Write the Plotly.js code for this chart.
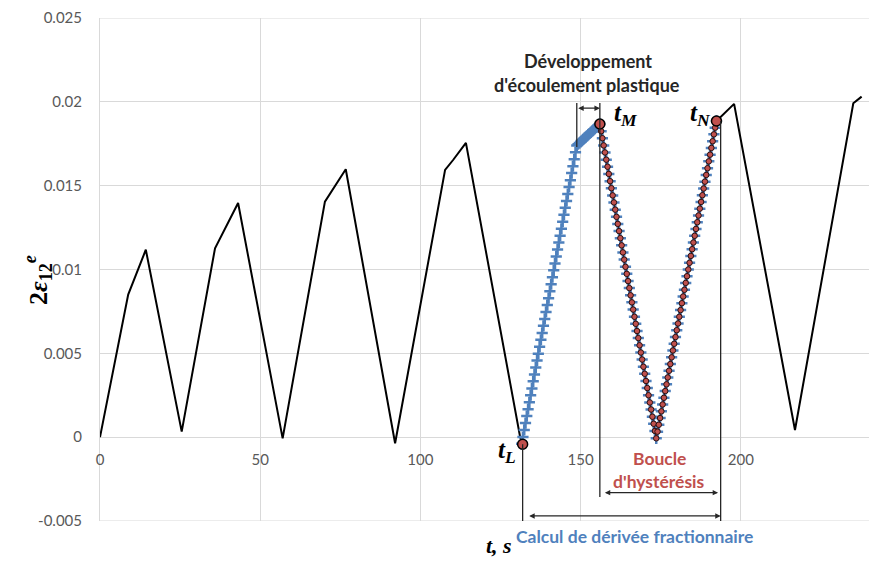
<!DOCTYPE html>
<html>
<head>
<meta charset="utf-8">
<script src="https://cdn.plot.ly/plotly-3.0.1.min.js"></script>
<style>html,body{margin:0;padding:0;background:#fff;}#chart{width:869px;height:561px;}</style>
</head>
<body>
<div id="chart"></div>
<script>
// ---- Data ----
// Black strain signal (gap between t_L and t_N where the marked series is drawn)
const tSignal = [0, 7.3, 8.8, 14.3, 25.5, 35.9, 43.1, 57.0, 70.2, 76.7, 92.1, 107.7, 110.2, 114.2, 131.1, 131.9, null, 192.4, 197.9, 216.9, 235.1, 237.7];
const epsSignal = [0, 0.0071, 0.0085, 0.01118, 0.00033, 0.01127, 0.01397, -0.00007, 0.01405, 0.01598, -0.00036, 0.01594, 0.01653, 0.01755, 0.00003, -0.00042, null, 0.01886, 0.01988, 0.00043, 0.01991, 0.02031];

// Samples used for the fractional derivative (t_L .. t_N)
const tFrac = [
131.6,132.0,132.4,132.8,133.2,133.6,134.0,134.4,134.8,135.2,
135.6,136.0,136.4,136.8,137.2,137.6,138.0,138.4,138.8,139.2,
139.6,140.0,140.4,140.8,141.2,141.6,142.0,142.4,142.8,143.2,
143.6,144.0,144.4,144.8,145.2,145.6,146.0,146.4,146.8,147.2,
147.6,148.0,148.4,148.8,149.2,149.6,150.0,150.4,150.8,151.2,
151.6,152.0,152.4,152.8,153.2,153.6,154.0,154.4,154.8,155.2,
155.6,156.0,156.4,156.8,157.2,157.6,158.0,158.4,158.8,159.2,
159.6,160.0,160.4,160.8,161.2,161.6,162.0,162.4,162.8,163.2,
163.6,164.0,164.4,164.8,165.2,165.6,166.0,166.4,166.8,167.2,
167.6,168.0,168.4,168.8,169.2,169.6,170.0,170.4,170.8,171.2,
171.6,172.0,172.4,172.8,173.2,173.6,174.0,174.4,174.8,175.2,
175.6,176.0,176.4,176.8,177.2,177.6,178.0,178.4,178.8,179.2,
179.6,180.0,180.4,180.8,181.2,181.6,182.0,182.4,182.8,183.2,
183.6,184.0,184.4,184.8,185.2,185.6,186.0,186.4,186.8,187.2,
187.6,188.0,188.4,188.8,189.2,189.6,190.0,190.4,190.8,191.2,
191.6,192.0,192.4];
const epsFrac = [
-0.00040,0.00001,0.00043,0.00084,0.00126,0.00167,0.00208,0.00250,0.00291,0.00333,
0.00374,0.00415,0.00457,0.00498,0.00540,0.00581,0.00622,0.00664,0.00705,0.00747,
0.00788,0.00829,0.00871,0.00912,0.00954,0.00995,0.01036,0.01078,0.01119,0.01161,
0.01202,0.01243,0.01285,0.01326,0.01368,0.01409,0.01450,0.01492,0.01533,0.01575,
0.01616,0.01657,0.01699,0.01740,0.01747,0.01754,0.01761,0.01768,0.01776,0.01783,
0.01790,0.01797,0.01804,0.01811,0.01818,0.01825,0.01833,0.01840,0.01847,0.01854,
0.01861,0.01868,0.01825,0.01783,0.01740,0.01698,0.01655,0.01613,0.01570,0.01527,
0.01485,0.01442,0.01400,0.01357,0.01314,0.01272,0.01229,0.01187,0.01144,0.01102,
0.01059,0.01016,0.00974,0.00931,0.00889,0.00846,0.00804,0.00761,0.00718,0.00676,
0.00633,0.00591,0.00548,0.00505,0.00463,0.00420,0.00378,0.00335,0.00293,0.00250,
0.00207,0.00165,0.00122,0.00080,0.00037,-0.00007,0.00033,0.00074,0.00114,0.00154,
0.00195,0.00235,0.00275,0.00315,0.00356,0.00396,0.00436,0.00476,0.00517,0.00557,
0.00597,0.00638,0.00678,0.00718,0.00758,0.00799,0.00839,0.00879,0.00920,0.00960,
0.01000,0.01040,0.01081,0.01121,0.01161,0.01201,0.01242,0.01282,0.01322,0.01363,
0.01403,0.01443,0.01483,0.01524,0.01564,0.01604,0.01645,0.01685,0.01725,0.01765,
0.01806,0.01846,0.01886];

// Key instants t_L, t_M, t_N
const keyLabels = ['L', 'M', 'N'];
const keyTimes = [131.9, 156.0, 192.4];
const keyEps = [-0.00042, 0.01868, 0.01886];
const plasticStart = 148.8;   // start of plastic flow development
const tNLineTime = 193.7;

const xTickVals = [0, 50, 100, 150, 200];
const yTickVals = [-0.005, 0, 0.005, 0.01, 0.015, 0.02, 0.025];
const yTickText = ['-0.005', '0', '0.005', '0.01', '0.015', '0.02', '0.025'];

// ---- Layout geometry ----
const W = 869, H = 561, ML = 100, MR = 0, MT = 18, MB = 40;
const PW = W - ML - MR, PH = H - MT - MB;
const px = x => (x - ML) / PW;
const py = y => (H - MB - y) / PH;

const mIdx = tFrac.indexOf(keyTimes[1]);
const nIdx = tFrac.indexOf(keyTimes[2]);

const BLUE = '#4f81bd', RED = '#c0504d', INK = '#262626', GRID = '#d9d9d9';
const sans = 'Lato, "Open Sans", sans-serif';
const serif = '"Liberation Serif", "DejaVu Serif", serif';

const traces = [
  {x: tSignal, y: epsSignal, mode: 'lines', line: {color: '#000', width: 2}, connectgaps: false, hoverinfo: 'skip'},
  {x: tFrac, y: epsFrac, mode: 'markers',
   marker: {symbol: 'cross-thin-open', size: 8, color: BLUE, line: {color: BLUE, width: 2.5}}},
  {x: tFrac.slice(mIdx, nIdx + 1), y: epsFrac.slice(mIdx, nIdx + 1), mode: 'lines+markers',
   line: {color: '#3a1a1a', width: 1},
   marker: {symbol: 'circle', size: 5.5, color: RED, line: {color: '#2a0f0f', width: 1}}},
  {x: keyTimes, y: keyEps, mode: 'markers',
   marker: {symbol: 'circle', size: 10, color: RED, line: {color: '#000', width: 1.5}}}
];

const vline = (x, y0, y1) => ({type: 'line', xref: 'x', yref: 'y', x0: x, x1: x, y0: y0, y1: y1,
  line: {color: INK, width: 1.3}});
const hgrid = y => ({type: 'line', xref: 'paper', yref: 'y', x0: 0, x1: 1, y0: y, y1: y, layer: 'below',
  line: {color: GRID, width: 1}});
const shapes = [
  hgrid(yTickVals[0]),
  hgrid(yTickVals[yTickVals.length - 1]),
  vline(keyTimes[0], keyEps[0], -0.005),
  vline(plasticStart, 0.0173, 0.01993),
  vline(keyTimes[1], -0.00357, 0.01993),
  vline(tNLineTime, keyEps[2], -0.005)
];

const dblArrow = (x0, x1, y) => ({x: x1, y: y, ax: x0, ay: y, xref: 'x', yref: 'y', axref: 'x', ayref: 'y',
  text: '', showarrow: true, arrowside: 'end+start', arrowhead: 2, arrowsize: 0.9, arrowwidth: 1.2, arrowcolor: INK});
const label = (x, y, text, color, size, family, extra) => Object.assign({
  xref: 'paper', yref: 'paper', x: px(x), y: py(y), xanchor: 'center', yanchor: 'middle',
  text: text, showarrow: false, font: {family: family || sans, size: size || 15, color: color || INK}}, extra || {});

const tLabel = k => '<b><i>t</i></b><sub><b><i>' + keyLabels[k] + '</i></b></sub>';

const annotations = [
  dblArrow(plasticStart, keyTimes[1], 0.01962),
  dblArrow(157.1, 192.9, -0.00331),
  dblArrow(133.5, tNLineTime, -0.0047),
  label(588, 61, '<b>Développement</b>', INK, 18),
  label(587, 85, "<b>d'écoulement plastique</b>", INK, 18),
  label(659, 458, '<b>Boucle</b>', RED, 17.5),
  label(659, 481, "<b>d'hystérésis</b>", RED, 17.5),
  label(634, 536, '<b>Calcul de dérivée fractionnaire</b>', BLUE, 17.5),
  label(499, 545, '<b><i>t, s</i></b>', '#000', 22, serif),
  label(626, 114, tLabel(1), '#000', 25, serif),
  label(700, 114, tLabel(2), '#000', 25, serif),
  label(507, 451, tLabel(0), '#000', 25, serif),
  label(38, 280, '<b>2<i>ε</i><sub>12</sub><sup><i>e</i></sup></b>', '#000', 26, serif, {textangle: -90})
];

const layout = {
  width: W, height: H,
  margin: {l: ML, r: MR, t: MT, b: MB, pad: 0},
  paper_bgcolor: '#fff', plot_bgcolor: '#fff',
  showlegend: false,
  xaxis: {range: [0, 240], tickvals: xTickVals, showgrid: true, gridcolor: GRID, gridwidth: 1,
    zeroline: false, showline: false, ticks: '', anchor: 'free', position: 1/6,
    ticklabelstandoff: 12, tickfont: {family: sans, size: 15, color: '#595959'}},
  yaxis: {range: [-0.005, 0.025], tickvals: yTickVals, ticktext: yTickText, showgrid: true,
    gridcolor: GRID, gridwidth: 1, zeroline: false, showline: true, linecolor: GRID, linewidth: 1, ticks: '',
    ticklabelstandoff: 14, tickfont: {family: sans, size: 15, color: '#595959'}},
  shapes: shapes,
  annotations: annotations
};

Plotly.newPlot('chart', traces, layout, {displayModeBar: false, staticPlot: true});
</script>
</body>
</html>
